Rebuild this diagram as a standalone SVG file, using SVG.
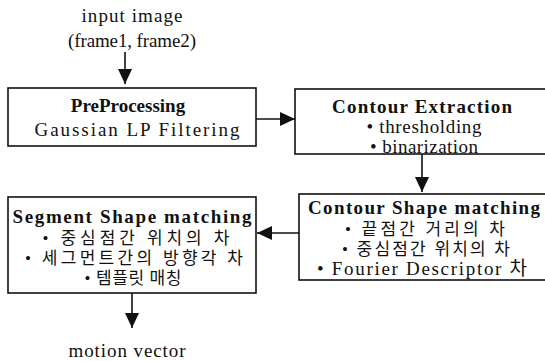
<svg xmlns="http://www.w3.org/2000/svg" width="545" height="361" viewBox="0 0 545 361">
  <style>
    .box { fill: #fff; stroke: #111; stroke-width: 1.6; }
    .t { font-family: 'Liberation Serif', 'Noto Sans CJK KR', serif; font-size: 19px; fill: #111; text-anchor: middle; }
    .b { font-weight: bold; font-size: 19px; }
    .k { font-size: 17px; }
    .edge { stroke: #111; stroke-width: 1.6; fill: none; marker-end: url(#head); }
  </style>
  <defs>
    <marker id="head" markerUnits="userSpaceOnUse" markerWidth="16" markerHeight="14" refX="15" refY="7" orient="auto">
      <path d="M0,0 L15,7 L0,14 Z" fill="#111"/>
    </marker>
  </defs>
  <rect width="545" height="361" fill="#fff"/>

  <!-- input label -->
  <g id="input">
    <text class="t" x="132" y="22" textLength="101" lengthAdjust="spacing">input image</text>
    <text class="t" x="132" y="47" textLength="128" lengthAdjust="spacing">(frame1, frame2)</text>
  </g>

  <!-- stage 1 -->
  <g id="preprocessing">
    <rect class="box" x="8" y="88" width="248" height="58"/>
    <text class="t b" x="128" y="112">PreProcessing</text>
    <text class="t" x="137" y="136" textLength="205" lengthAdjust="spacing">Gaussian LP Filtering</text>
  </g>

  <!-- stage 2 -->
  <g id="contour-extraction">
    <rect class="box" x="295" y="89" width="260" height="65"/>
    <text class="t b" x="422" y="113" textLength="180" lengthAdjust="spacing">Contour Extraction</text>
    <text class="t" x="424" y="133" textLength="115" lengthAdjust="spacing">• thresholding</text>
    <text class="t" x="424" y="153" textLength="108" lengthAdjust="spacing">• binarization</text>
  </g>

  <!-- stage 3 -->
  <g id="contour-shape-matching">
    <rect class="box" x="299" y="194" width="256" height="86"/>
    <text class="t b" x="424" y="214" textLength="232" lengthAdjust="spacing">Contour Shape matching</text>
    <text class="t k" x="425" y="235" textLength="160" lengthAdjust="spacing">• 끝점간 거리의 차</text>
    <text class="t k" x="426" y="255" textLength="168" lengthAdjust="spacing">• 중심점간 위치의 차</text>
    <text class="t" x="422" y="275" textLength="210" lengthAdjust="spacing">• Fourier Descriptor 차</text>
  </g>

  <!-- stage 4 -->
  <g id="segment-shape-matching">
    <rect class="box" x="8" y="197" width="248" height="96"/>
    <text class="t b" x="132" y="223" textLength="239" lengthAdjust="spacing">Segment Shape matching</text>
    <text class="t k" x="136" y="244" textLength="187" lengthAdjust="spacing">• 중심점간 위치의 차</text>
    <text class="t k" x="134" y="264" textLength="218" lengthAdjust="spacing">• 세그먼트간의 방향각 차</text>
    <text class="t k" x="133" y="284" textLength="97" lengthAdjust="spacing">• 템플릿 매칭</text>
  </g>

  <!-- output label -->
  <g id="output">
    <text class="t" x="127" y="357" textLength="117" lengthAdjust="spacing">motion vector</text>
  </g>

  <!-- connectors -->
  <g id="connectors">
    <line class="edge" x1="125" y1="52" x2="125" y2="84"/>
    <line class="edge" x1="256" y1="119" x2="295" y2="119"/>
    <line class="edge" x1="422" y1="154" x2="422" y2="192"/>
    <line class="edge" x1="299" y1="233" x2="257" y2="233"/>
    <line class="edge" x1="132" y1="293" x2="132" y2="328"/>
  </g>
</svg>
